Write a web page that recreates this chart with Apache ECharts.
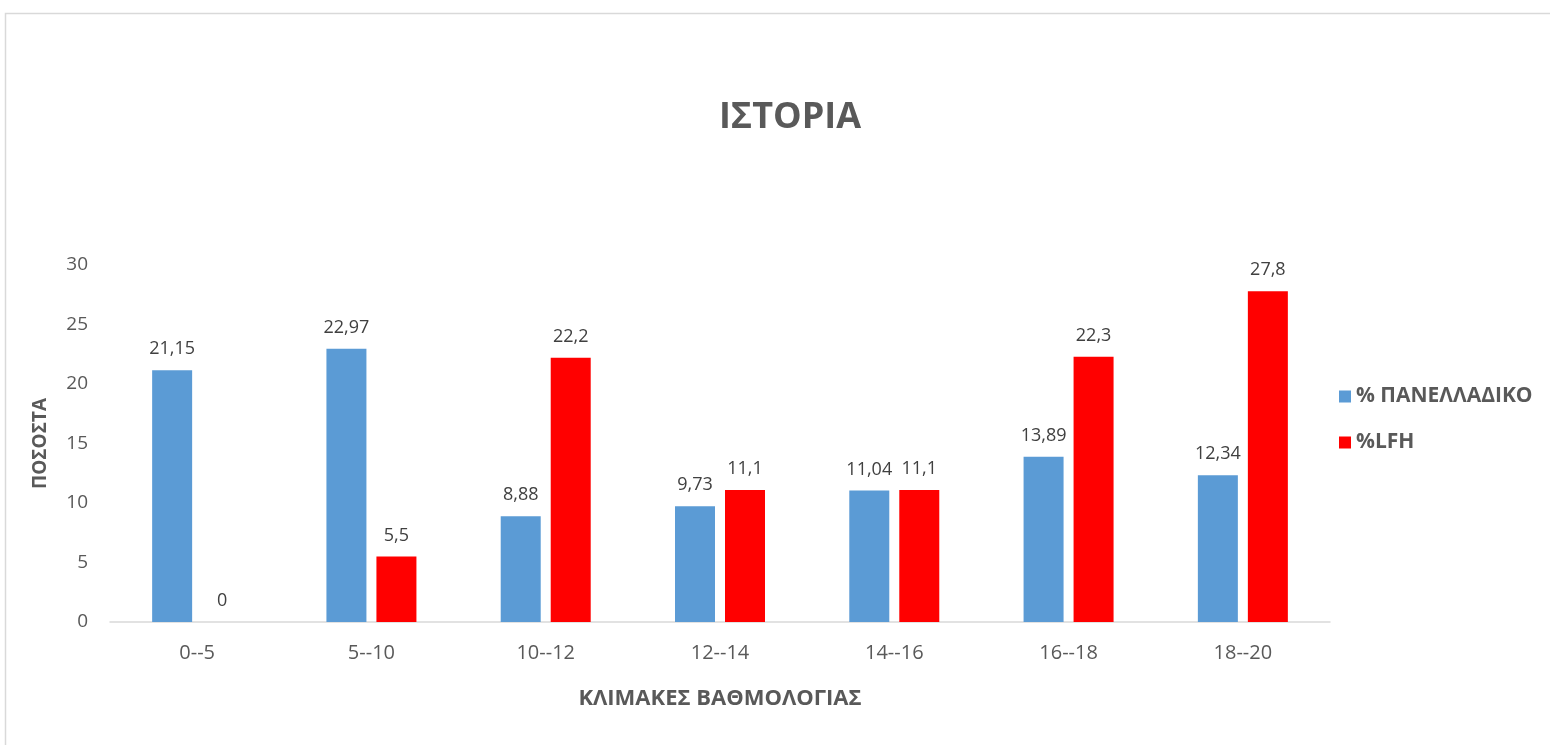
<!DOCTYPE html>
<html><head><meta charset="utf-8">
<script src="https://cdn.jsdelivr.net/npm/echarts@6/dist/echarts.min.js"></script>
<style>html,body{margin:0;padding:0;background:#fff}#c{width:1550px;height:745px}</style>
</head><body><div id="c"></div>
<script>
const categories = ['0--5','5--10','10--12','12--14','14--16','16--18','18--20'];
const panelladiko = [21.15,22.97,8.88,9.73,11.04,13.89,12.34];
const lfh = [0,5.5,22.2,11.1,11.1,22.3,27.8];
const seriesNames = ['% ΠΑΝΕΛΛΑΔΙΚΟ','%LFH'];
const yTicks = [0,5,10,15,20,25,30];

const font = '"Open Sans", "Noto Sans", sans-serif';
const fmt = p => String(p.value).replace('.', ',');
const chart = echarts.init(document.getElementById('c'));
chart.setOption({
  animation:false,
  graphic:[{type:'rect',left:3,top:11,shape:{width:1600,height:800},style:{fill:'none',stroke:'#d9d9d9',lineWidth:1.5},silent:true}],
  title:{text:'ΙΣΤΟΡΙΑ',left:785,top:95,textAlign:'center',textStyle:{fontFamily:font,fontSize:36,fontWeight:'bold',color:'#595959'}},
  legend:{orient:'vertical',left:1334,top:381,itemWidth:12,itemHeight:12,itemGap:25,icon:'rect',
    textStyle:{fontFamily:font,fontSize:21,fontWeight:'bold',color:'#595959'},data:seriesNames},
  grid:{left:110,right:220,top:265,bottom:123,containLabel:false},
  xAxis:{type:'category',data:categories,
    axisLine:{lineStyle:{color:'#d9d9d9',width:1.5}},axisTick:{show:false},
    axisLabel:{fontFamily:font,fontSize:20,color:'#595959',margin:21},
    name:'ΚΛΙΜΑΚΕΣ ΒΑΘΜΟΛΟΓΙΑΣ',nameLocation:'middle',nameGap:66,
    nameTextStyle:{fontFamily:font,fontSize:22,fontWeight:'bold',color:'#595959'}},
  yAxis:{type:'value',min:yTicks[0],max:yTicks[yTicks.length-1],interval:5,
    splitLine:{show:false},axisLine:{show:false},axisTick:{show:false},
    axisLabel:{fontFamily:font,fontSize:19,color:'#595959',margin:22},
    name:'ΠΟΣΟΣΤΑ',nameLocation:'middle',nameGap:60,
    nameTextStyle:{fontFamily:font,fontSize:19,fontWeight:'bold',color:'#595959'}},
  series:[
    {name:seriesNames[0],type:'bar',data:panelladiko,barWidth:40,barGap:'25%',
     itemStyle:{color:'#5b9bd5'},
     label:{show:true,position:'top',distance:12,formatter:fmt,fontFamily:font,fontSize:18,color:'#404040'}},
    {name:seriesNames[1],type:'bar',data:lfh,barWidth:40,
     itemStyle:{color:'#ff0000'},
     label:{show:true,position:'top',distance:12,formatter:fmt,fontFamily:font,fontSize:18,color:'#404040'}}
  ]
});
</script></body></html>
